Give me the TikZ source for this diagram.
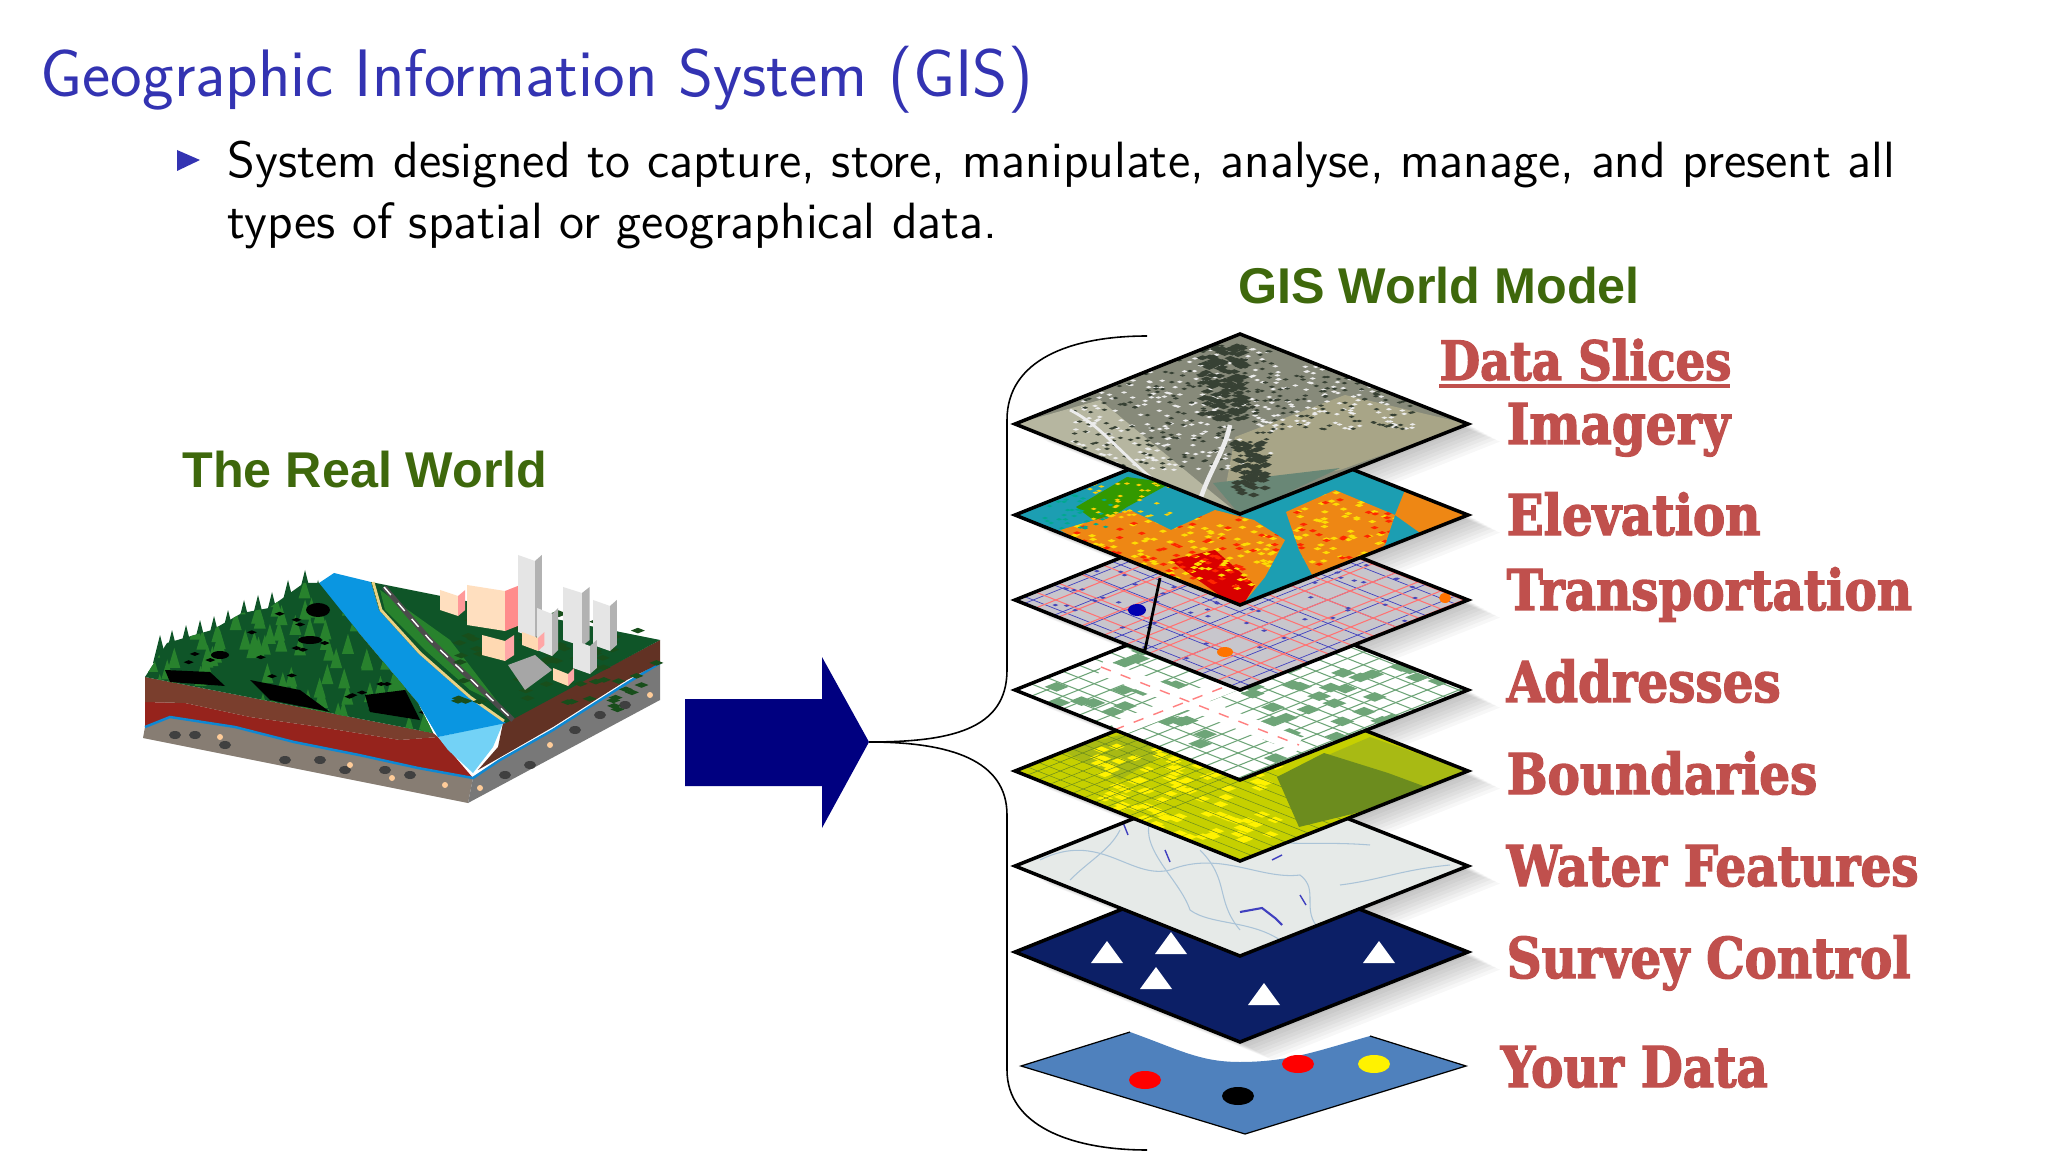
\documentclass[tikz,border=0pt]{standalone}
\usepackage{fontspec}
\newfontfamily\labelfont{Liberation Sans}
\newfontfamily\slicefont[FakeStretch=0.86,FakeBold=2.4]{DejaVu Serif}
\usetikzlibrary{calc}

\definecolor{titleblue}{RGB}{51,51,178}
\definecolor{modelgreen}{RGB}{62,104,12}
\definecolor{sliceRed}{RGB}{192,80,77}
\definecolor{arrowblue}{RGB}{0,0,128}
\definecolor{datablue}{RGB}{79,129,189}
\definecolor{surveyblue}{RGB}{12,31,102}
\definecolor{waterbase}{RGB}{230,234,232}
\definecolor{waterline}{RGB}{170,195,215}
\definecolor{boundyellow}{RGB}{198,208,0}
\definecolor{boundolive}{RGB}{168,186,20}
\definecolor{bounddark}{RGB}{108,140,30}
\definecolor{roadgrey}{RGB}{200,198,204}
\definecolor{addrgreen}{RGB}{110,165,120}
\definecolor{elevteal}{RGB}{28,158,178}
\definecolor{elevorange}{RGB}{238,135,20}
\definecolor{imgbase}{RGB}{135,138,122}
\definecolor{imgfield}{RGB}{168,165,135}
\definecolor{imgpale}{RGB}{182,182,160}
\definecolor{imgwater}{RGB}{105,135,118}
\definecolor{imgdark}{RGB}{55,65,52}
\definecolor{soilbrown}{RGB}{122,62,45}
\definecolor{soilred}{RGB}{150,35,28}
\definecolor{rockgrey}{RGB}{135,125,115}
\definecolor{rockdark}{RGB}{120,120,120}
\definecolor{riverblue}{RGB}{10,150,225}
\definecolor{treedark}{RGB}{15,85,40}
\definecolor{treemid}{RGB}{40,130,45}

\tikzset{
    slicepath/.style={insert path={(1015,#1) -- (1240,#1-90) -- (1468,#1) -- (1240,#1+90) -- cycle}},
    sliceedge/.style={draw=black, line width=1pt, line join=miter},
    slicelabel/.style={anchor=base west, inner sep=0pt, text=sliceRed, font=\slicefont\bfseries\fontsize{16}{18}\selectfont},
    greenlabel/.style={inner sep=0pt, text=modelgreen, font=\labelfont\bfseries\fontsize{14.3}{16}\selectfont},
    bodytext/.style={anchor=base west, inner sep=0pt, font=\sffamily\fontsize{14.5}{17}\selectfont},
    bracket/.style={draw=black, line width=0.45pt},
}

% grid of straight lines that follow the two edges of a slice
\newcommand{\slicegrid}[3]{%
    \foreach \t in {#2} {
        \draw[#3] ({1015+225*\t},{#1-90*\t}) -- ++(228,90);
        \draw[#3] ({1015+228*\t},{#1+90*\t}) -- ++(225,-90);
    }}
% small random flecks
\newcommand{\flecks}[7]{%
    \foreach \i in {1,...,#1} {
        \pgfmathsetmacro{\px}{#2+rnd*(#4-#2)}
        \pgfmathsetmacro{\py}{#3+rnd*(#5-#3)}
        \fill[#7] (\px,\py) -- ++(#6,0.4*#6) -- ++(#6,-0.4*#6) -- ++(-#6,-0.4*#6) -- cycle;
    }}
% building with a light and a dark face
\newcommand{\building}[6]{%
    \fill[#5] (#1,#3) -- (#1,#4) -- (#2,#4+6) -- (#2,#3+6) -- cycle;
    \fill[#6] (#2,#3+6) -- (#2,#4+6) -- (#2+0.4*#2-0.4*#1,#4) -- (#2+0.4*#2-0.4*#1,#3) -- cycle;
}

\begin{document}
\begin{tikzpicture}[x=0.01cm, y=-0.01cm]

    \useasboundingbox (0,0) rectangle (2048,1152);
    \fill[white] (0,0) rectangle (2048,1152);

    % slide text
    \node[anchor=base west, inner sep=0pt, text=titleblue, font=\sffamily\fontsize{19.1}{23}\selectfont] (title) at (40,97) {Geographic Information System (GIS)};
    \fill[titleblue] (177,150) -- (200,160) -- (177,171) -- cycle;
    \node[bodytext] (lineone) at (227,178) {System designed to capture, store, manipulate, analyse, manage, and present all};
    \node[bodytext] (linetwo) at (227,239) {types of spatial or geographical data.};

    \node[greenlabel] (realworld) at (365,470) {The Real  World};
    \node[greenlabel] (worldmodel) at (1439,286) {GIS World Model};

    % the block of land
    \fill[rockgrey] (143,738) -- (468,803) -- (473,778) -- (418,768) -- (359,755) -- (294,742) -- (235,727) -- (170,717) -- (145,727) -- cycle;
    \fill[rockdark] (468,803) -- (660,700) -- (660,663) -- (627,683) -- (553,730) -- (500,760) -- (473,778) -- cycle;
    \fill[soilred] (145,702) -- (185,703) -- (250,717) -- (320,727) -- (400,740) -- (438,737) -- (473,778) -- (418,768) -- (359,755) -- (294,742) -- (235,727) -- (170,717) -- (145,727) -- cycle;
    \fill[soilbrown] (145,677) -- (433,733) -- (438,737) -- (400,740) -- (320,727) -- (250,717) -- (185,703) -- (145,702) -- cycle;
    \draw[cyan!70!blue, line width=0.7pt] (145,727) -- (170,717) -- (235,727) -- (294,742) -- (359,755) -- (418,768) -- (473,778) -- (500,760) -- (553,730) -- (627,683) -- (660,663);
    \foreach \x/\y in {175/735,195/735,225/745,285/760,320/760,345/770,385/770,410/775,505/775,530/765,575/730,600/715,625/705} {
        \fill[black!75] (\x,\y) ellipse (6 and 4);
    }
    \foreach \x/\y in {220/737,350/765,392/778,445/785,480/788,550/745,650/695} {
        \fill[orange!40!white] (\x,\y) circle (3);
    }
    \fill[soilbrown!80!black] (503,723) -- (660,640) -- (660,663) -- (627,680) -- (553,727) -- (478,770) -- (498,747) -- cycle;
    \fill[cyan!55!white] (438,737) -- (503,723) -- (493,747) -- (473,773) -- (448,750) -- cycle;
    \fill[riverblue] (319,583) -- (334,573) -- (371,582) -- (379,610) -- (418,653) -- (468,697) -- (506,723) -- (438,737) -- (418,703) -- (359,633) -- (319,590) -- cycle;
    \fill[treedark] (371,582) -- (660,640) -- (506,723) -- (468,697) -- (418,653) -- (379,610) -- cycle;
    \fill[treemid] (380,590) -- (450,640) -- (500,705) -- (470,690) -- (425,650) -- (385,610) -- cycle;
    \draw[yellow!40!brown!60!white, line width=0.8pt] (373,582) -- (381,610) -- (420,653) -- (470,697) -- (504,721);
    \draw[gray!60!black, line width=1.4pt] (384,587) -- (430,640) -- (513,720);
    \draw[white, line width=0.4pt, dashed] (384,587) -- (430,640) -- (513,720);

    % forest
    \fill[treedark] (145,677) -- (167,643) -- (212,630) -- (242,613) -- (269,608) -- (304,583) -- (319,583) -- (359,633) -- (418,703) -- (433,733) -- cycle;
    \foreach \x/\y in {160/655,172/650,186/645,200/640,214/636,228/630,244/620,258/615,272/612,288/600,305/590,318/600,335/625} {
        \fill[treedark] (\x,\y-20) -- (\x+7,\y+8) -- (\x-7,\y+8) -- cycle;
    }
    \begin{scope}
        \clip (145,677) -- (167,643) -- (212,630) -- (242,613) -- (269,608) -- (304,583) -- (319,583) -- (359,633) -- (418,703) -- (433,733) -- cycle;
        \pgfmathsetseed{42}
        \foreach \i in {1,...,130} {
            \pgfmathsetmacro{\px}{150+rnd*280}
            \pgfmathsetmacro{\py}{590+rnd*140}
            \fill[treemid] (\px,\py-14) -- (\px+6,\py+6) -- (\px-6,\py+6) -- cycle;
        }
        \flecks{30}{150}{610}{420}{730}{5}{black}
        \fill[black] (165,670) -- (210,672) -- (225,686) -- (170,682) -- cycle;
        \fill[black] (250,680) -- (300,690) -- (330,712) -- (270,700) -- cycle;
        \fill[black] (365,695) -- (405,690) -- (420,720) -- (370,712) -- cycle;
        \fill[black] (310,640) ellipse (12 and 4);
        \fill[black] (220,655) ellipse (9 and 4);
        \fill[black] (318,610) ellipse (12 and 7);
    \end{scope}

    % city
    \pgfmathsetseed{21}
    \flecks{80}{450}{610}{650}{710}{7}{treemid!60!black}
    \building{440}{458}{590}{610}{orange!25!white}{red!40!white}
    \building{467}{505}{585}{625}{orange!25!white}{red!45!white}
    \building{518}{535}{555}{632}{gray!20!white}{gray!60!white}
    \building{537}{552}{608}{650}{gray!20!white}{gray!60!white}
    \building{563}{582}{587}{640}{gray!20!white}{gray!60!white}
    \building{593}{610}{600}{645}{gray!20!white}{gray!60!white}
    \building{573}{590}{640}{668}{gray!20!white}{gray!60!white}
    \building{482}{505}{635}{655}{orange!30!white}{red!35!white}
    \building{522}{538}{632}{645}{orange!30!white}{red!35!white}
    \building{553}{568}{668}{680}{orange!30!white}{red!35!white}
    \fill[gray!70!white] (508,665) -- (535,655) -- (552,670) -- (525,690) -- cycle;

    % arrow and brackets
    \fill[arrowblue] (685,699) -- (822,699) -- (822,657) -- (869,742) -- (822,828) -- (822,786) -- (685,786) -- cycle;
    \coordinate (arrowtip) at (869,742);
    \coordinate (bracetop) at (1147,336);
    \coordinate (bracebottom) at (1147,1150);
    \draw[bracket] (arrowtip) .. controls (950,742) and (1007,730) .. (1007,670) -- (1007,420) .. controls (1007,360) and (1070,336) .. (bracetop);
    \draw[bracket] (arrowtip) .. controls (950,742) and (1007,760) .. (1007,815) -- (1007,1070) .. controls (1007,1125) and (1070,1150) .. (bracebottom);

    % soft shadows of the slices
    \foreach \cy in {424,515,600,690,771,866,952} {
        \foreach \s in {4,8,...,32} {
            \fill[black, opacity=0.03, shift={(\s,0.55*\s)}, slicepath=\cy];
        }
    }

    % your data
    \fill[datablue] (1021,1066) -- (1130,1032) .. controls (1180,1050) and (1200,1062) .. (1240,1062) .. controls (1290,1062) and (1320,1050) .. (1370,1036) -- (1466,1066) -- (1245,1134) -- cycle;
    \draw[black, line width=0.35pt] (1130,1032) -- (1021,1066) -- (1245,1134) -- (1466,1066) -- (1370,1036);
    \fill[red] (1145,1080) ellipse (16 and 9);
    \fill[red] (1298,1064) ellipse (16 and 9);
    \fill[yellow] (1374,1064) ellipse (16 and 9);
    \fill[black] (1238,1096) ellipse (16 and 9);

    % survey control
    \fill[surveyblue, slicepath=952];
    \foreach \x/\y in {1107/953,1171/944,1156/979,1264/995,1379/953} {
        \fill[white] (\x,\y-12) -- (\x+16,\y+10) -- (\x-16,\y+10) -- cycle;
    }
    \draw[sliceedge, slicepath=952];

    % water features
    \begin{scope}
        \clip[slicepath=866];
        \fill[waterbase, slicepath=866];
        \draw[waterline, line width=0.3pt] (1040,860) .. controls (1100,830) and (1130,880) .. (1170,870) .. controls (1220,850) and (1260,880) .. (1300,875);
        \draw[waterline, line width=0.3pt] (1150,820) .. controls (1140,850) and (1180,880) .. (1190,910) .. controls (1210,925) and (1250,920) .. (1280,940);
        \draw[waterline, line width=0.3pt] (1340,885) .. controls (1380,880) and (1400,870) .. (1450,865);
        \draw[waterline, line width=0.3pt] (1230,830) .. controls (1260,850) and (1310,840) .. (1370,845);
        \draw[waterline, line width=0.3pt] (1120,830) .. controls (1110,850) and (1090,860) .. (1070,880);
        \draw[waterline, line width=0.3pt] (1300,875) .. controls (1320,890) and (1300,910) .. (1320,930);
        \draw[waterline, line width=0.3pt] (1200,850) .. controls (1230,880) and (1215,900) .. (1240,930);
        \draw[blue!50!gray, line width=0.6pt] (1240,912) -- (1262,908) -- (1275,918) -- (1282,925);
        \draw[blue!50!gray, line width=0.4pt] (1122,820) -- (1128,835);
        \draw[blue!50!gray, line width=0.4pt] (1272,860) -- (1282,855);
        \draw[blue!50!gray, line width=0.4pt] (1300,895) -- (1306,905);
        \draw[blue!50!gray, line width=0.4pt] (1165,850) -- (1170,862);
    \end{scope}
    \draw[sliceedge, slicepath=866];

    % boundaries
    \begin{scope}
        \clip[slicepath=771];
        \fill[boundyellow, slicepath=771];
        \fill[boundolive] (1370,737) -- (1468,771) -- (1400,830) -- (1277,777) -- cycle;
        \fill[bounddark] (1277,777) -- (1324,753) -- (1388,773) -- (1426,787) -- (1356,813) -- (1299,827) -- cycle;
        \fill[boundolive] (1060,750) -- (1120,735) -- (1170,750) -- (1120,780) -- cycle;
        \pgfmathsetseed{7}
        \flecks{110}{1090}{745}{1270}{840}{8}{yellow}
        \slicegrid{771}{0.05,0.1,...,0.6}{bounddark, line width=0.15pt}
    \end{scope}
    \draw[sliceedge, slicepath=771];

    % addresses
    \begin{scope}
        \clip[slicepath=690];
        \fill[white, slicepath=690];
        \slicegrid{690}{0.07,0.14,...,1}{addrgreen, line width=0.3pt}
        \pgfmathsetseed{11}
        \flecks{110}{1030}{610}{1440}{770}{12}{addrgreen}
        \draw[white, line width=4.5pt] (1101,667) -- (1299,745);
        \draw[white, line width=4.5pt] (1114,730) -- (1388,623);
        \draw[red!50!white, line width=0.4pt, dashed] (1101,667) -- (1299,745);
        \draw[red!50!white, line width=0.4pt, dashed] (1114,730) -- (1388,623);
    \end{scope}
    \draw[sliceedge, slicepath=690];

    % transportation
    \begin{scope}
        \clip[slicepath=600];
        \fill[roadgrey, slicepath=600];
        \slicegrid{600}{0.04,0.17,...,0.99}{blue!50!gray, line width=0.2pt}
        \slicegrid{600}{0.09,0.19,...,1}{red!55!white, line width=0.3pt}
        \pgfmathsetseed{9}
        \flecks{70}{1040}{540}{1440}{660}{3}{blue!45!gray}
        \draw[black, line width=0.8pt] (1160,578) -- (1145,650) -- (1125,650);
        \fill[blue!70!black] (1137,610) ellipse (9 and 6);
        \fill[orange!90!red] (1445,598) ellipse (6 and 5);
        \fill[orange!90!red] (1225,652) ellipse (8 and 5);
    \end{scope}
    \draw[sliceedge, slicepath=600];

    % elevation
    \begin{scope}
        \clip[slicepath=515];
        \fill[elevteal, slicepath=515];
        \fill[green!50!black!80!yellow] (1076,507) -- (1127,477) -- (1171,483) -- (1127,507) -- (1100,525) -- cycle;
        \fill[elevorange] (1060,530) -- (1130,510) -- (1171,530) -- (1215,510) -- (1254,520) -- (1285,540) -- (1265,577) -- (1238,610) -- (1130,570) -- cycle;
        \fill[elevorange] (1286,512) -- (1335,490) -- (1395,515) -- (1385,545) -- (1320,590) -- (1299,550) -- cycle;
        \fill[elevorange] (1405,490) -- (1468,515) -- (1430,540) -- (1395,515) -- cycle;
        \fill[red!85!black] (1170,560) -- (1215,550) -- (1255,585) -- (1240,610) -- cycle;
        \pgfmathsetseed{3}
        \begin{scope}
            \clip (1060,530) -- (1130,510) -- (1171,530) -- (1215,510) -- (1254,520) -- (1285,540) -- (1265,577) -- (1238,610) -- (1130,570) -- cycle;
            \flecks{160}{1070}{515}{1285}{590}{4}{yellow!80!orange}
            \flecks{90}{1070}{515}{1285}{590}{4}{red!70!orange}
        \end{scope}
        \begin{scope}
            \clip (1286,512) -- (1335,490) -- (1395,515) -- (1385,545) -- (1320,590) -- (1299,550) -- cycle;
            \flecks{90}{1290}{490}{1400}{580}{4}{yellow!80!orange}
            \flecks{40}{1290}{490}{1400}{580}{4}{red!70!orange}
        \end{scope}
        \flecks{40}{1080}{480}{1170}{520}{3}{yellow!70!orange}
        \flecks{40}{1040}{490}{1110}{530}{3}{cyan!40!green}
    \end{scope}
    \draw[sliceedge, slicepath=515];

    % imagery
    \begin{scope}
        \clip[slicepath=424];
        \fill[imgbase, slicepath=424];
        \fill[imgpale] (1015,424) -- (1100,400) -- (1215,495) -- (1240,515) -- cycle;
        \fill[imgfield] (1235,437) -- (1345,395) -- (1468,424) -- (1340,470) -- (1225,490) -- cycle;
        \fill[imgwater] (1213,483) -- (1340,468) -- (1240,515) -- cycle;
        \pgfmathsetseed{5}
        \flecks{280}{1070}{345}{1270}{470}{3}{white!85!gray}
        \flecks{260}{1070}{345}{1270}{470}{3}{imgdark}
        \flecks{110}{1270}{365}{1410}{430}{3}{white!85!gray}
        \flecks{110}{1270}{365}{1410}{430}{3}{imgdark}
        \flecks{130}{1195}{345}{1240}{420}{6}{imgdark}
        \flecks{70}{1230}{440}{1260}{495}{6}{imgdark}
        \draw[white!85!gray, line width=1.3pt] (1230,425) .. controls (1225,450) and (1210,470) .. (1200,500);
        \draw[white!85!gray, line width=0.8pt] (1070,410) .. controls (1110,430) and (1130,470) .. (1190,505);
    \end{scope}
    \draw[sliceedge, slicepath=424];

    % labels of the slices
    \node[slicelabel, font=\slicefont\bfseries\fontsize{15.4}{18}\selectfont] (dataslices) at (1439,380) {Data Slices};
    \draw[sliceRed, line width=1.1pt] (dataslices.base west) ++(0,6) -- ++(291,0);
    \node[slicelabel] (imagery) at (1506,444) {Imagery};
    \node[slicelabel] (elevation) at (1506,535) {Elevation};
    \node[slicelabel] (transportation) at (1506,610) {Transportation};
    \node[slicelabel] (addresses) at (1506,702) {Addresses};
    \node[slicelabel] (boundaries) at (1506,794) {Boundaries};
    \node[slicelabel] (waterfeatures) at (1506,886) {Water Features};
    \node[slicelabel] (surveycontrol) at (1506,978) {Survey Control};
    \node[slicelabel] (yourdata) at (1500,1087) {Your Data};

\end{tikzpicture}
\end{document}
